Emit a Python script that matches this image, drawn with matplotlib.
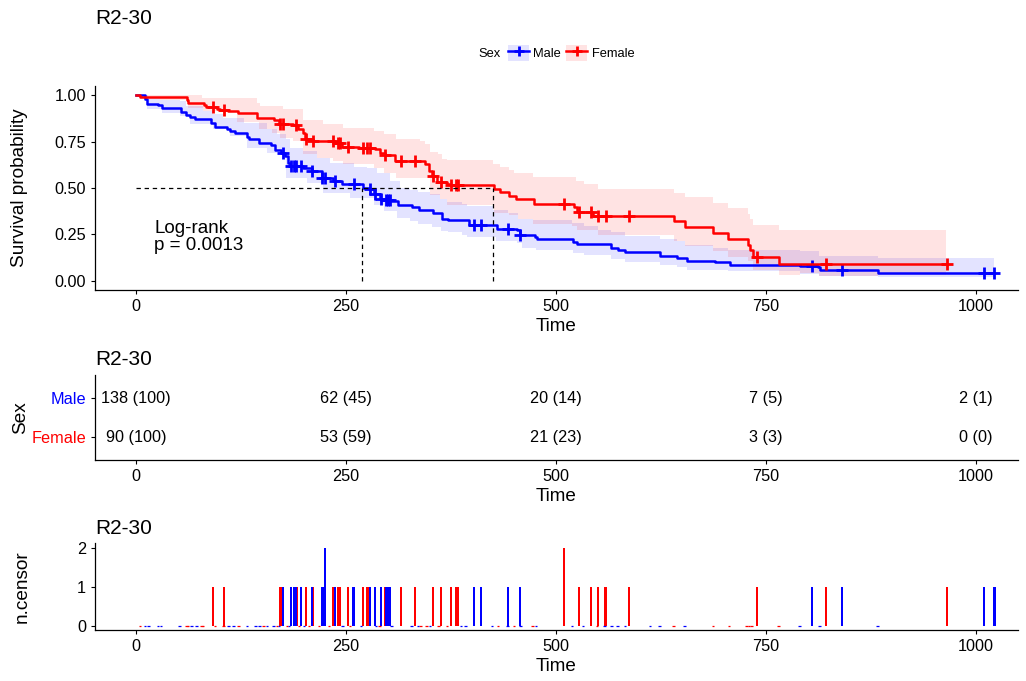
import matplotlib
matplotlib.use('Agg')
import matplotlib.pyplot as plt
import numpy as np
from matplotlib.legend_handler import HandlerTuple
from matplotlib.lines import Line2D
from matplotlib.patches import Patch

plt.rcParams['font.family'] = ['Liberation Sans', 'DejaVu Sans']

# survival curves
male_t = [0, 10.7, 13.5, 26.6, 30.6, 53, 59.5, 64, 70, 89,
          94, 108, 112, 118, 132, 135, 146, 161, 165, 173,
          177, 181, 183, 199, 209, 221, 235, 245, 270, 279,
          283, 291, 297, 304, 312, 328, 337, 353, 364, 372,
          396, 430, 453, 457, 475, 477, 520, 525, 566, 574,
          582, 624, 644, 656, 689, 707, 790, 812, 814, 883]
male_s = [1, .982, .953, .946, .930, .912, .896, .885, .871, .852,
          .829, .816, .807, .796, .775, .762, .744, .730, .705, .690,
          .672, .636, .618, .607, .589, .555, .539, .524, .500, .492,
          .470, .441, .434, .429, .411, .398, .380, .366, .335, .330,
          .303, .279, .272, .245, .236, .227, .207, .196, .178, .165,
          .153, .131, .120, .108, .099, .086, .077, .072, .060, .043]
male_end = 1022

female_t = [0, 4.8, 61, 62, 81, 83, 97, 100, 110, 122,
            144, 164, 170, 187, 193, 199, 201, 211, 237, 245,
            265, 284, 291, 296, 308, 344, 349, 352, 358, 370,
            374, 426, 433, 444, 452, 474, 521, 525, 544, 641,
            654, 687, 705, 728, 731, 735, 765]
female_s = [1, .989, .975, .959, .946, .937, .928, .920, .913, .905,
            .879, .867, .843, .838, .820, .795, .766, .753, .744, .723,
            .717, .708, .690, .676, .645, .627, .591, .564, .532, .519,
            .514, .492, .477, .456, .438, .416, .398, .371, .351, .320,
            .288, .258, .227, .195, .164, .128, .092]
female_end = 964

male_hi_t = [0, 10, 14.7, 28.6, 52.4, 60, 80, 92, 104, 128, 156, 168, 179, 183, 199, 215, 231, 259, 275, 287, 302, 314, 326, 336, 350, 362, 370, 388, 394, 425, 443, 455, 473, 519, 533, 550, 566, 582, 612, 624, 644, 654, 687, 705, 790, 813, 883, 1022]
male_ci_hi = [1.0, 1.0, .984, .975, .970, .943, .915, .897, .879, .852, .816, .789, .762, .717, .699, .663, .636, .614, .609, .582, .537, .501, .488, .477, .465, .438, .425, .416, .402, .380, .366, .333, .330, .312, .294, .276, .261, .243, .240, .225, .214, .191, .177, .164, .160, .135, .124, .124]
male_lo_t = [0, 10, 13.5, 31, 52, 64, 92, 112, 132, 156, 179, 203, 223, 255, 283, 295, 311, 326, 336, 352, 363, 371, 388, 394, 428, 453, 459, 476, 520, 533, 566, 582, 624, 644, 656, 705, 790, 813, 883, 1022]
male_ci_lo = [1.0, .970, .924, .906, .888, .843, .816, .780, .717, .690, .555, .527, .473, .447, .411, .375, .339, .321, .306, .290, .267, .261, .247, .236, .213, .204, .177, .164, .150, .137, .119, .101, .087, .074, .060, .051, .038, .027, .018, .018]

female_hi_t = [0, 58, 78, 144, 148, 175, 199, 223, 247, 283, 295, 309, 338, 344, 350, 360, 364, 370, 425, 433, 444, 450, 473, 524, 533, 550, 640, 654, 687, 705, 728, 731, 735, 765, 964]
female_ci_hi = [1.0, 1.0, .987, .960, .943, .925, .865, .843, .825, .807, .789, .762, .753, .735, .694, .681, .659, .649, .627, .613, .596, .582, .559, .537, .519, .497, .474, .450, .420, .393, .362, .333, .303, .276, .276]
female_lo_t = [0, 4, 29, 62, 80, 120, 146, 162, 172, 187, 199, 215, 235, 247, 283, 295, 309, 350, 362, 370, 426, 444, 455, 473, 519, 525, 550, 640, 654, 687, 705, 728, 735, 765, 790, 813, 883, 964]
female_ci_lo = [1.0, .985, .975, .933, .915, .856, .816, .798, .771, .753, .681, .663, .645, .627, .609, .582, .555, .460, .438, .410, .366, .357, .333, .308, .294, .272, .245, .216, .186, .158, .128, .105, .060, .033, .041, .027, .033, .033]

# censoring times
male_cens = [175, 185, 188, 190, 196, 210, 222, 225, 237, 259, 279, 285, 292, 298, 300, 302, 402, 411, 443, 457, 805, 840, 1010, 1022]
male_cens_n = [1] * 7 + [2] + [1] * 16
female_cens = [92, 105, 172, 175, 191, 202, 211, 235, 241, 243, 252, 270, 275, 278, 296, 315, 332, 354, 363, 375, 381, 383, 510, 527, 542, 550, 559, 587, 739, 821, 965]
female_cens_n = [1] * 22 + [2] + [1] * 8
male_zero = [11, 15, 26, 30, 52, 66, 72, 110, 116, 132, 142, 147, 156, 164, 170, 182, 200, 246, 268, 286, 304, 328, 336, 350, 387, 392, 424, 442, 458, 476, 519, 532, 558, 566, 573, 582, 612, 623, 653, 790, 814, 883]
female_zero = [5, 60, 62, 78, 80, 94, 104, 122, 152, 168, 180, 194, 206, 218, 230, 255, 290, 339, 346, 360, 370, 431, 450, 472, 549, 640, 687, 706, 727, 730, 733, 765]

x_ticks = [0, 250, 500, 750, 1000]
surv_ticks = [0, .25, .5, .75, 1]
surv_labels = ['0.00', '0.25', '0.50', '0.75', '1.00']
risk_male = ['138 (100)', '62 (45)', '20 (14)', '7 (5)', '2 (1)']
risk_female = ['90 (100)', '53 (59)', '21 (23)', '3 (3)', '0 (0)']
median_male = 269
median_female = 425

W, H = 1026, 681
x_left, x_right = 95, 1018
blue = '#0000FF'
red = '#FF0000'


def make_axes(top, bottom, title_base):
    ax = fig.add_axes([x_left / W, 1 - bottom / H, (x_right - x_left) / W, (bottom - top) / H])
    ax.set_xlim(-48.8, 1050)
    ax.set_xticks(x_ticks)
    ax.spines[['top', 'right']].set_visible(False)
    ax.spines[['left', 'bottom']].set_linewidth(0.9)
    ax.tick_params(length=3, width=0.8, labelsize=11.7, pad=3.5)
    height = bottom - top
    ax.set_xlabel('Time', fontsize=13.6, va='center')
    ax.xaxis.set_label_coords(0.4999, -36.5 / height)
    ax.set_title('R2-30', loc='left', fontsize=15, pad=0, y=(bottom - title_base) / height)
    return ax


def at(t, s, when):
    return np.array(s)[np.searchsorted(t, when, side='right') - 1]


fig = plt.figure(figsize=(W / 100, H / 100), dpi=100)

# main panel
ax = make_axes(86, 290, 24)
ax.set_ylim(-0.05, 1.05)
ax.set_yticks(surv_ticks, surv_labels)
ax.set_ylabel('Survival probability', fontsize=13.7, va='center')
ax.yaxis.set_label_coords((20 - x_left) / (x_right - x_left), 0.5)

for hi_t, hi, lo_t, lo, col in [(male_hi_t, male_ci_hi, male_lo_t, male_ci_lo, blue),
                                (female_hi_t, female_ci_hi, female_lo_t, female_ci_lo, red)]:
    all_t = np.unique(np.r_[hi_t, lo_t])
    ax.fill_between(all_t, at(lo_t, lo, all_t), at(hi_t, hi, all_t), step='post', color=col, alpha=0.11, lw=0)

for t, s, end, cens, col in [(male_t, male_s, male_end, male_cens, blue), (female_t, female_s, female_end, female_cens, red)]:
    ax.step(np.r_[t, end], np.r_[s, s[-1]], where='post', color=col, lw=1.8)
    ax.plot(cens, at(t, s, cens), '+', color=col, ms=8, mew=2, ls='none')

ax.plot([0, median_female], [.5, .5], color='black', lw=0.9, ls=(0, (3.5, 3)))
ax.plot([median_male, median_male], [0, .5], color='black', lw=0.9, ls=(0, (3.5, 3)))
ax.plot([median_female, median_female], [0, .5], color='black', lw=0.9, ls=(0, (3.5, 3)))
ax.text(22, 0.235, 'Log-rank\np = 0.0013', fontsize=13.5, va='center', ha='left', linespacing=0.98)

handles = [(Patch(color=blue, alpha=0.11, lw=0), Line2D([], [], color=blue, lw=1.8, marker='+', ms=7.5, mew=2)),
           (Patch(color=red, alpha=0.11, lw=0), Line2D([], [], color=red, lw=1.8, marker='+', ms=7.5, mew=2))]
fig.legend(handles, ['Male', 'Female'], ncol=2, frameon=False, fontsize=9.3, loc='center left',
           bbox_to_anchor=(508 / W, 1 - 53 / H), borderpad=0, borderaxespad=0, handlelength=1.63, handleheight=1.63,
           handletextpad=0.32, columnspacing=0.42, handler_map={tuple: HandlerTuple(ndivide=1, pad=0)})
fig.text(478 / W, 1 - 54 / H, 'Sex', fontsize=9.3, va='center', ha='left')

# numbers at risk
ax2 = make_axes(375, 460, 365)
ax2.set_ylim(0.41, 2.59)
ax2.set_yticks([1, 2], ['Female', 'Male'])
ax2.get_yticklabels()[0].set_color(red)
ax2.get_yticklabels()[1].set_color(blue)
ax2.set_ylabel('Sex', fontsize=13.7, va='center')
ax2.yaxis.set_label_coords((21 - x_left) / (x_right - x_left), 0.5)
for t, m, f in zip(x_ticks, risk_male, risk_female):
    ax2.text(t, 2, m, ha='center', va='center', fontsize=11.7)
    ax2.text(t, 0.98, f, ha='center', va='center', fontsize=11.7)

# censor counts
ax3 = make_axes(543, 630, 534)
ax3.set_ylim(-0.1, 2.128)
ax3.set_yticks([0, 1, 2])
ax3.set_ylabel('n.censor', fontsize=13.7, va='center')
ax3.yaxis.set_label_coords((22 - x_left) / (x_right - x_left), 0.5)
ax3.bar(female_cens, female_cens_n, width=2.6, color=red, lw=0, antialiased=False)
ax3.bar(male_cens, male_cens_n, width=2.6, color=blue, lw=0, antialiased=False)
ax3.hlines([0] * len(female_zero), np.array(female_zero) - 1.5, np.array(female_zero) + 1.5, color=red, lw=0.9)
ax3.hlines([0] * len(male_zero), np.array(male_zero) - 1.5, np.array(male_zero) + 1.5, color=blue, lw=0.9)

plt.savefig('out.png', dpi=100)
